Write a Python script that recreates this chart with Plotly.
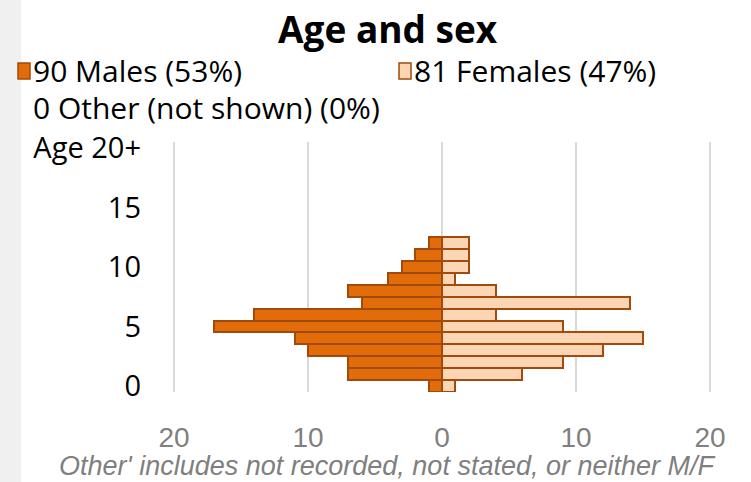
import plotly.graph_objects as go

ages = list(range(13))
males = [1, 7, 7, 10, 11, 17, 14, 6, 7, 4, 3, 2, 1]
females = [1, 6, 9, 12, 15, 9, 4, 14, 4, 1, 2, 2, 2]
x_tickvals = [-20, -10, 0, 10, 20]
x_ticktext = ["20", "10", "0", "10", "20"]
y_tickvals = [0, 5, 10, 15, 20]
y_ticktext = ["0", "5", "10", "15", "Age 20+"]
title = "Age and sex"
legend_labels = ["90 Males (53%)", "81 Females (47%)", "0 Other (not shown) (0%)"]
footnote = "Other' includes not recorded, not stated, or neither M/F"

MALE = "#E36C0A"
FEMALE = "#FCD5B5"
EDGE = "#A04A0C"
FONT = "Open Sans, Noto Sans, sans-serif"
FONT2 = "Liberation Sans, Arial, sans-serif"

fig = go.Figure()
fig.add_trace(go.Bar(y=ages, x=[-v for v in males], orientation="h", name=legend_labels[0],
                     marker=dict(color=MALE, line=dict(color=EDGE, width=2)),
                     showlegend=False, hoverinfo="skip"))
fig.add_trace(go.Bar(y=ages, x=females, orientation="h", name=legend_labels[1],
                     marker=dict(color=FEMALE, line=dict(color=EDGE, width=2)),
                     showlegend=False, hoverinfo="skip"))

L, R, T, B = 170, 37, 142, 90
W, H = 751, 482
pw, ph = W - L - R, H - T - B

def px(xp):
    return (xp - L) / pw

def py(yp):
    return (H - B - yp) / ph

shapes = [
    dict(type="rect", xref="paper", yref="paper", x0=px(0), x1=px(21), y0=py(H), y1=py(0),
         fillcolor="#F0F0F0", line=dict(width=0), layer="below"),
    dict(type="rect", xref="paper", yref="paper", x0=px(18), x1=px(30), y0=py(79), y1=py(63),
         fillcolor=MALE, line=dict(color=EDGE, width=1.5)),
    dict(type="rect", xref="paper", yref="paper", x0=px(399), x1=px(411), y0=py(79), y1=py(63),
         fillcolor=FEMALE, line=dict(color=EDGE, width=1.5)),
]

annotations = [
    dict(text=f"<b>{title}</b>", xref="paper", yref="paper", x=px(388), y=py(28),
         xanchor="center", yanchor="middle", showarrow=False, font=dict(size=37, color="black", family=FONT)),
    dict(text=legend_labels[0], xref="paper", yref="paper", x=px(31), y=py(71),
         xanchor="left", yanchor="middle", showarrow=False, font=dict(size=30, color="black", family=FONT)),
    dict(text=legend_labels[1], xref="paper", yref="paper", x=px(412), y=py(71),
         xanchor="left", yanchor="middle", showarrow=False, font=dict(size=30, color="black", family=FONT)),
    dict(text=legend_labels[2], xref="paper", yref="paper", x=px(31), y=py(107),
         xanchor="left", yanchor="middle", showarrow=False, font=dict(size=30, color="black", family=FONT)),
    dict(text=f"<i>{footnote}</i>", xref="paper", yref="paper", x=px(387), y=py(466),
         xanchor="center", yanchor="middle", showarrow=False, font=dict(size=27, color="#7F7F7F", family=FONT2)),
]

fig.update_layout(
    width=W, height=H, margin=dict(l=L, r=R, t=T, b=B, pad=0),
    paper_bgcolor="white", plot_bgcolor="white",
    barmode="overlay", bargap=0,
    font=dict(family=FONT),
    shapes=shapes, annotations=annotations,
    xaxis=dict(range=[-20.3, 20.3], tickvals=x_tickvals, ticktext=x_ticktext,
               showgrid=True, gridcolor="#D9D9D9", gridwidth=2, zeroline=False,
               showline=False, ticks="", ticklabelstandoff=26,
               tickfont=dict(size=28, color="#7F7F7F", family=FONT2), fixedrange=True),
    yaxis=dict(range=[-0.5, 20.5], tickvals=y_tickvals, ticktext=y_ticktext,
               showgrid=False, zeroline=False, showline=False, ticks="",
               ticklabelstandoff=28,
               tickfont=dict(size=29, color="black", family=FONT), fixedrange=True),
)

fig.write_html("out.html", config={"displayModeBar": False},
               post_script="document.body.style.margin='0';document.body.style.padding='0';")
